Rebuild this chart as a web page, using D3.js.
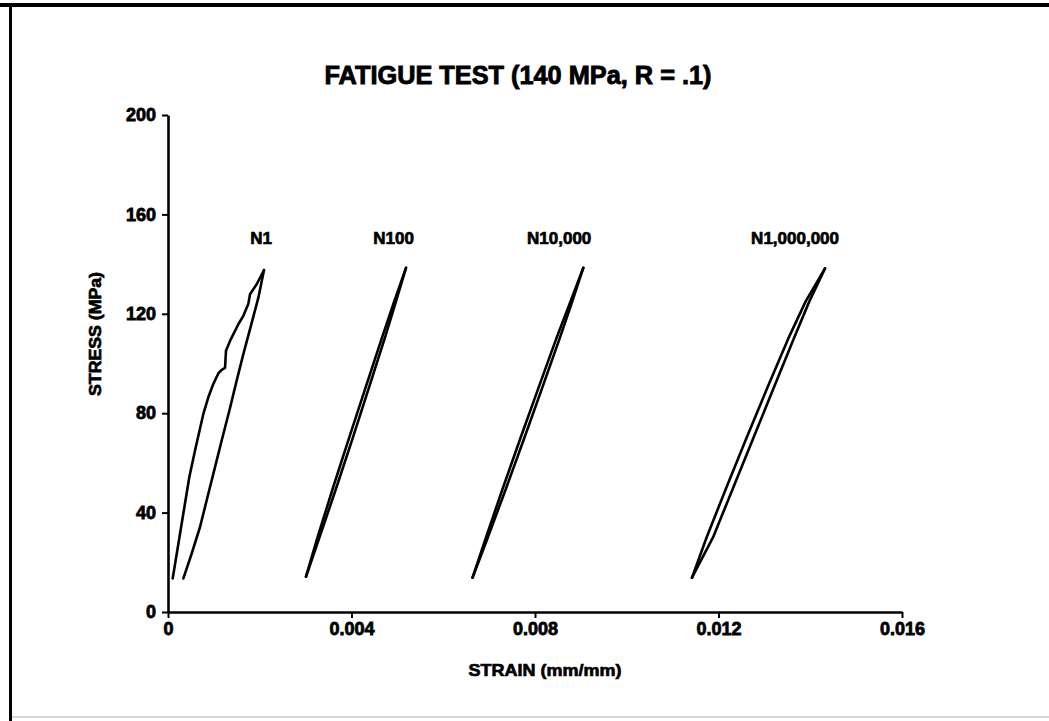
<!DOCTYPE html>
<html>
<head>
<meta charset="utf-8">
<script src="https://cdn.jsdelivr.net/npm/d3@7"></script>
<style>
  html, body { margin: 0; padding: 0; background: #fff; }
  svg text { font-family: "Liberation Sans", Arial, sans-serif; font-weight: bold; fill: #000; }
</style>
</head>
<body>
<div id="chart"></div>
<script>
// cycle labels
const cycleLabels = ["N1", "N100", "N10,000", "N1,000,000"];

// each branch is a list of [strain (mm/mm), stress (MPa)]
const n1Loading = [
  [0.000102, 13.5], [0.000465, 54.3], [0.000589, 65], [0.00077, 79.7],
  [0.000879, 86.4], [0.000988, 91.8], [0.001097, 96], [0.00117, 97.4],
  [0.001243, 98.2], [0.001264, 105.1], [0.001352, 109.1], [0.001533, 115.8],
  [0.001642, 119.2], [0.00175, 123.9], [0.001788, 127.9], [0.001933, 131.9],
  [0.002093, 137.6]
];
const n1Unloading = [
  [0.002093, 137.6], [0.00197, 126.5], [0.001788, 113.8], [0.001642, 103.8],
  [0.001497, 93.1], [0.001337, 81], [0.00117, 69], [0.001025, 58.3],
  [0.000879, 47.6], [0.000698, 34.2], [0.000516, 23.5], [0.000335, 13.5]
];
const n100Loading = [
  [0.003008, 14.2], [0.003259, 30], [0.003597, 50], [0.003946, 70],
  [0.004301, 90], [0.004658, 110], [0.004931, 125], [0.005188, 138.5]
];
const n100Unloading = [
  [0.005188, 138.5], [0.00497, 125], [0.004722, 110], [0.004375, 90],
  [0.004026, 70], [0.003669, 50], [0.003302, 30], [0.003008, 14.2]
];
const n10kLoading = [
  [0.006638, 13.8], [0.006932, 30], [0.007302, 50], [0.007684, 70],
  [0.008072, 90], [0.008464, 110], [0.008774, 125], [0.009053, 138.5]
];
const n10kUnloading = [
  [0.009053, 138.5], [0.008813, 125], [0.008536, 110], [0.008153, 90],
  [0.007767, 70], [0.007374, 50], [0.006971, 30], [0.006638, 13.8]
];
const n1mLoading = [
  [0.011422, 13.8], [0.011740, 30], [0.012170, 50], [0.012610, 70],
  [0.013060, 90], [0.013520, 110], [0.013900, 125], [0.014322, 138.3]
];
const n1mUnloading = [
  [0.014322, 138.3], [0.013980, 125], [0.013640, 110], [0.013200, 90],
  [0.012760, 70], [0.012320, 50], [0.011880, 30], [0.011422, 13.8]
];

const loops = [
  [n1Loading, n1Unloading],
  [n100Loading, n100Unloading],
  [n10kLoading, n10kUnloading],
  [n1mLoading, n1mUnloading]
];

// axis ticks
const xTicks = [0, 0.004, 0.008, 0.012, 0.016];
const yTicks = [0, 40, 80, 120, 160, 200];

const W = 1049, H = 721;

const svg = d3.select("#chart").append("svg")
  .attr("width", W)
  .attr("height", H);

// scanned page frame
svg.append("rect").attr("x", 0).attr("y", 3).attr("width", W).attr("height", 4).attr("fill", "#000");
svg.append("rect").attr("x", 9).attr("y", 3).attr("width", 3).attr("height", H - 3).attr("fill", "#000");
svg.append("rect").attr("x", 12).attr("y", 716).attr("width", W - 12).attr("height", 2).attr("fill", "#d8d8d8");

const x = d3.scaleLinear().domain([0, 0.016]).range([168, 902]);
const y = d3.scaleLinear().domain([0, 200]).range([612, 115]);

// title
svg.append("text")
  .attr("x", 518)
  .attr("y", 84)
  .attr("text-anchor", "middle")
  .attr("font-size", 26)
  .attr("stroke", "#000").attr("stroke-width", 0.9)
  .attr("textLength", 387).attr("lengthAdjust", "spacingAndGlyphs")
  .text("FATIGUE TEST (140 MPa, R = .1)");

// axes
const xAxis = d3.axisBottom(x)
  .tickValues(xTicks)
  .tickSize(6)
  .tickSizeOuter(0)
  .tickPadding(4)
  .tickFormat(d => d === 0 ? "0" : d3.format(".3f")(d));

const yAxis = d3.axisLeft(y)
  .tickValues(yTicks)
  .tickSize(6)
  .tickSizeOuter(0)
  .tickPadding(6)
  .tickFormat(d3.format("d"));

const gx = svg.append("g")
  .attr("transform", "translate(0," + y(0) + ")")
  .call(xAxis);

const gy = svg.append("g")
  .attr("transform", "translate(" + x(0) + ",0)")
  .call(yAxis);

[gx, gy].forEach(g => {
  g.select(".domain").attr("stroke", "#000").attr("stroke-width", 2.6);
  g.selectAll(".tick line").attr("stroke", "#000").attr("stroke-width", 2);
  g.selectAll(".tick text")
    .attr("font-size", 18)
    .attr("font-family", "'Liberation Sans', Arial, sans-serif")
    .attr("font-weight", "bold")
    .attr("stroke", "#000").attr("stroke-width", 0.8);
});

// axis titles
svg.append("text")
  .attr("x", 545)
  .attr("y", 676)
  .attr("text-anchor", "middle")
  .attr("font-size", 17)
  .attr("stroke", "#000").attr("stroke-width", 0.7)
  .attr("textLength", 153).attr("lengthAdjust", "spacingAndGlyphs")
  .text("STRAIN (mm/mm)");

svg.append("text")
  .attr("transform", "translate(101,334) rotate(-90)")
  .attr("text-anchor", "middle")
  .attr("font-size", 17)
  .attr("stroke", "#000").attr("stroke-width", 0.7)
  .attr("textLength", 124).attr("lengthAdjust", "spacingAndGlyphs")
  .text("STRESS (MPa)");

// hysteresis loops
const line = d3.line()
  .x(d => x(d[0]))
  .y(d => y(d[1]))
  .curve(d3.curveLinear);

loops.forEach(branches => {
  branches.forEach(b => {
    svg.append("path")
      .attr("d", line(b))
      .attr("fill", "none")
      .attr("stroke", "#000")
      .attr("stroke-width", 2.6)
      .attr("stroke-linejoin", "round")
      .attr("stroke-linecap", "round");
  });
});

// cycle labels, right end near each loop's peak
loops.forEach((branches, i) => {
  const peak = branches[0][branches[0].length - 1];
  svg.append("text")
    .attr("x", x(peak[0]) + (i === 3 ? 14 : 8))
    .attr("y", y(148))
    .attr("text-anchor", "end")
    .attr("font-size", 17)
    .attr("stroke", "#000").attr("stroke-width", 0.7)
    .text(cycleLabels[i]);
});
</script>
</body>
</html>
